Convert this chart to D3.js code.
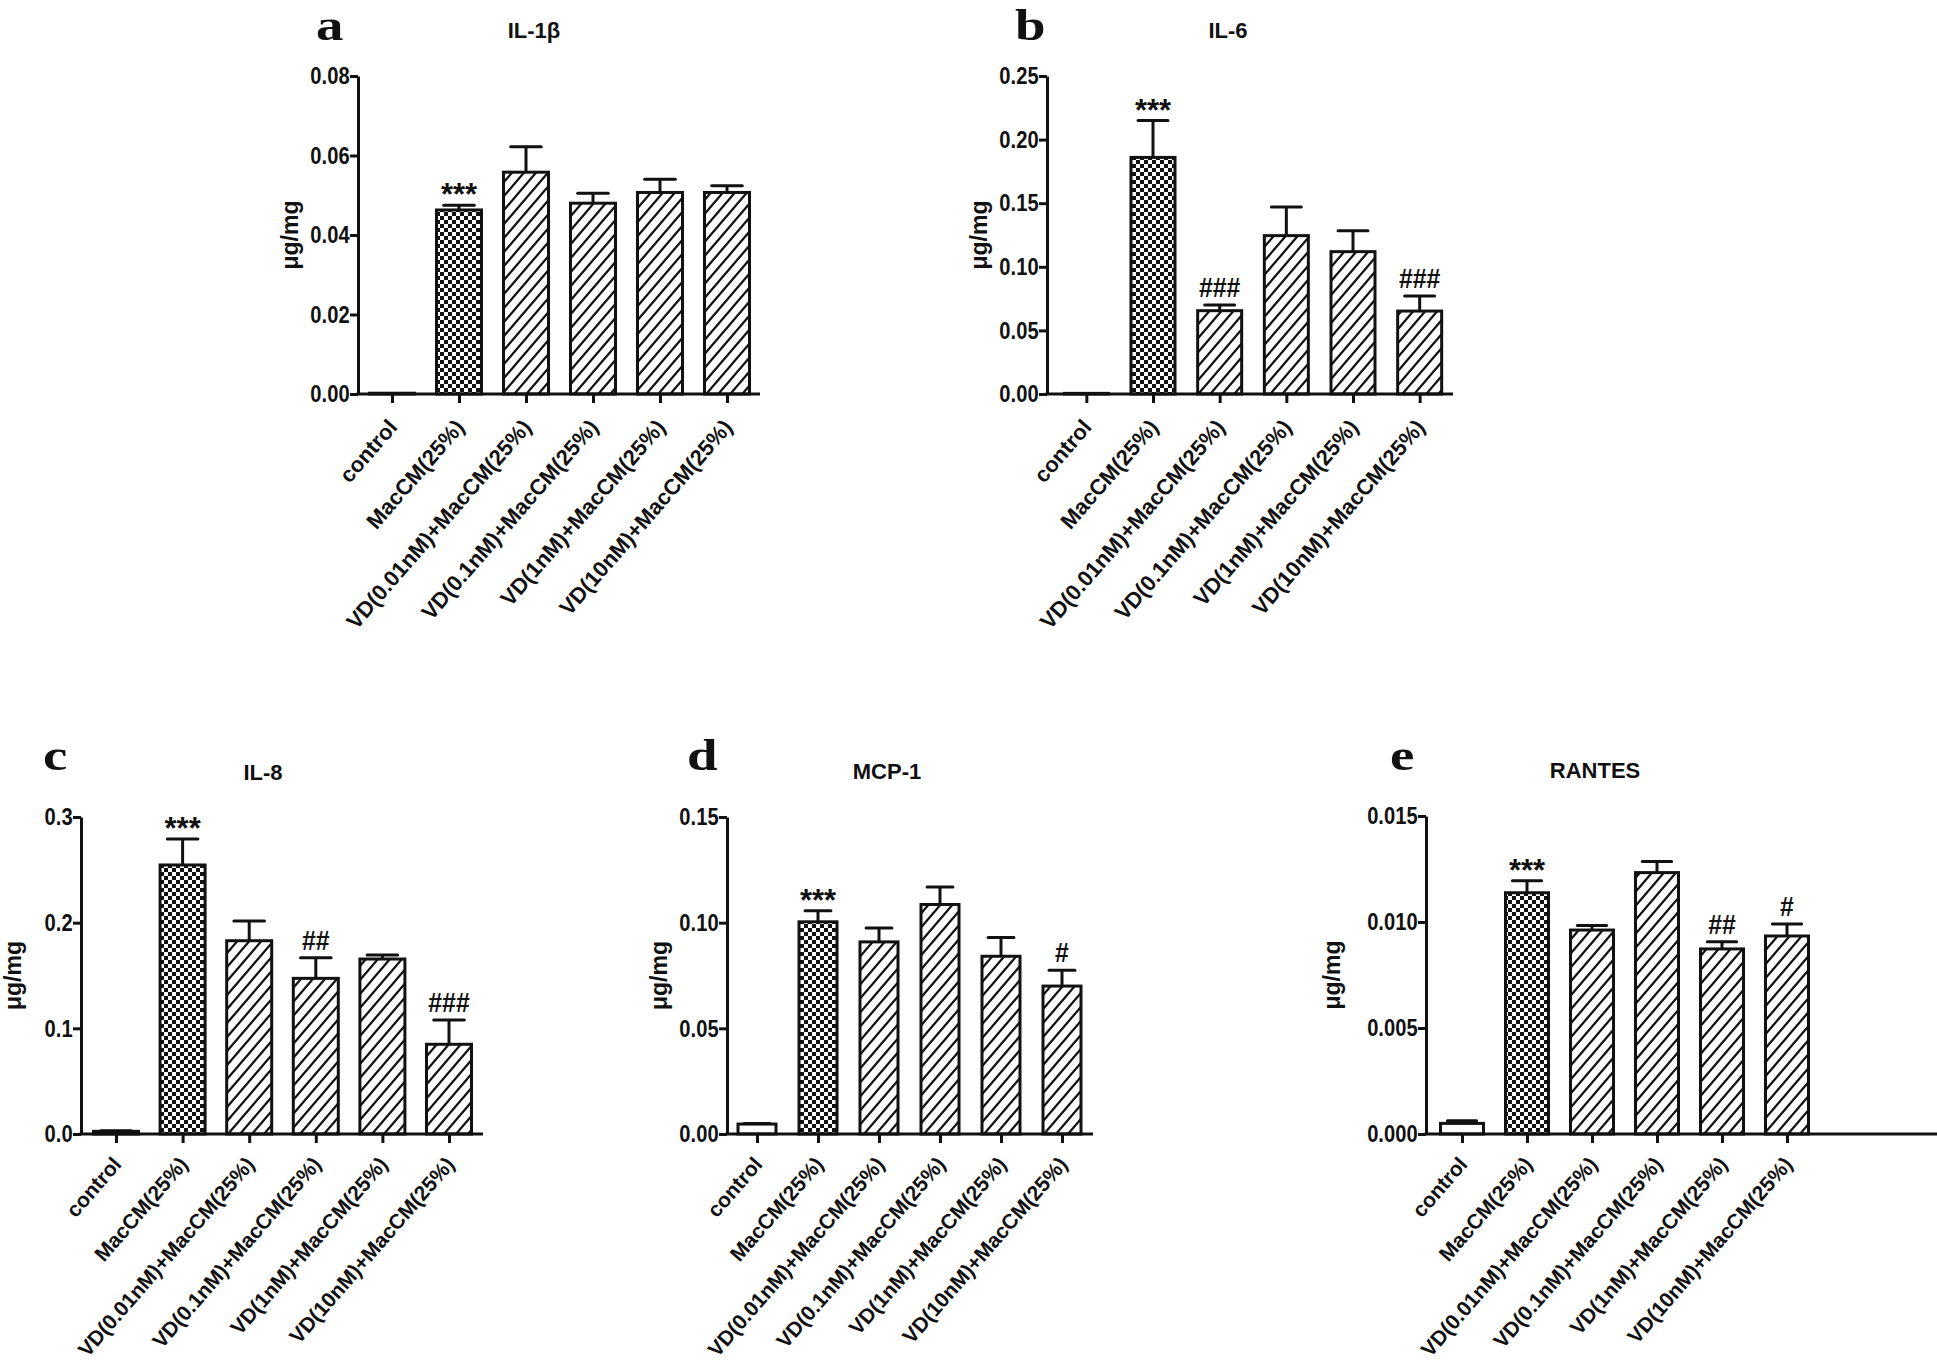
<!DOCTYPE html>
<html><head><meta charset="utf-8">
<script src="https://cdn.jsdelivr.net/npm/d3@7"></script>
<style>body{margin:0;background:#fff}</style>
</head><body>
<svg id="fig" width="1937" height="1372"></svg>
<script>
// ---------- data ----------
const categories = ["control", "MacCM(25%)", "VD(0.01nM)+MacCM(25%)", "VD(0.1nM)+MacCM(25%)", "VD(1nM)+MacCM(25%)", "VD(10nM)+MacCM(25%)"];

const il1bMean = [0.0002, 0.0463, 0.0558, 0.0480, 0.0507, 0.0507];
const il1bSem  = [0, 0.0012, 0.0064, 0.0025, 0.0033, 0.0017];
const il1bSig  = ["", "***", "", "", "", ""];
const il1bTicks = [0, 0.02, 0.04, 0.06, 0.08];

const il6Mean = [0.0005, 0.186, 0.0655, 0.1245, 0.1119, 0.0652];
const il6Sem  = [0, 0.029, 0.0045, 0.0225, 0.0165, 0.0118];
const il6Sig  = ["", "***", "###", "", "", "###"];
const il6Ticks = [0, 0.05, 0.10, 0.15, 0.20, 0.25];

const il8Mean = [0.0025, 0.2546, 0.1829, 0.1473, 0.1656, 0.0849];
const il8Sem  = [0.0005, 0.0246, 0.0187, 0.0196, 0.0038, 0.0230];
const il8Sig  = ["", "***", "", "##", "", "###"];
const il8Ticks = [0, 0.1, 0.2, 0.3];

const mcp1Mean = [0.0047, 0.1004, 0.0909, 0.1086, 0.0841, 0.0700];
const mcp1Sem  = [0.0003, 0.0052, 0.0066, 0.0083, 0.0089, 0.0075];
const mcp1Sig  = ["", "***", "", "", "", "#"];
const mcp1Ticks = [0, 0.05, 0.10, 0.15];

const rantesMean = [0.00050, 0.01138, 0.00962, 0.01233, 0.00873, 0.00934];
const rantesSem  = [0.00013, 0.00057, 0.00021, 0.00052, 0.00034, 0.00057];
const rantesSig  = ["", "***", "", "", "##", "#"];
const rantesTicks = [0, 0.005, 0.010, 0.015];

const yLabel = "\u03bcg/mg";

// ---------- layout ----------
const panels = [
  {letter:"a", title:"IL-1\u03b2", mean:il1bMean, sem:il1bSem, sig:il1bSig, ticks:il1bTicks, fmt:".2f",
   axX:[356.5,760], band:[358.5,760.5], yR:[394,76], bw:45, letterPos:[316,40], titlePos:[534,38], ylabX:298, xlab:[22,34]},
  {letter:"b", title:"IL-6", mean:il6Mean, sem:il6Sem, sig:il6Sig, ticks:il6Ticks, fmt:".2f",
   axX:[1045.5,1453], band:[1053,1453], yR:[394,76], bw:44, letterPos:[1015,40], titlePos:[1228,38], ylabX:987, xlab:[22,34]},
  {letter:"c", title:"IL-8", mean:il8Mean, sem:il8Sem, sig:il8Sig, ticks:il8Ticks, fmt:".1f",
   axX:[79.5,483], band:[82.7,482.3], yR:[1134,817], bw:45, letterPos:[43,770], titlePos:[263,780], ylabX:21, xlab:[21,31]},
  {letter:"d", title:"MCP-1", mean:mcp1Mean, sem:mcp1Sem, sig:mcp1Sig, ticks:mcp1Ticks, fmt:".2f",
   axX:[725.5,1093], band:[726.5,1092.5], yR:[1134,817], bw:38, letterPos:[687,770], titlePos:[887,779], ylabX:667, xlab:[21,31]},
  {letter:"e", title:"RANTES", mean:rantesMean, sem:rantesSem, sig:rantesSig, ticks:rantesTicks, fmt:".3f",
   axX:[1424.5,1937], band:[1429.5,1819.5], yR:[1134,816], bw:43, letterPos:[1390,770], titlePos:[1595,778], ylabX:1340, xlab:[21,31]}
];

const SANS = "'Liberation Sans', Arial, Helvetica, sans-serif";
const SERIF = "'Liberation Serif', 'Times New Roman', serif";
const LW = 3;

const svg = d3.select("#fig");
svg.append("rect").attr("width",1937).attr("height",1372).attr("fill","#fff");

// patterns
const defs = svg.append("defs");
const chk = defs.append("pattern").attr("id","checker").attr("patternUnits","userSpaceOnUse")
  .attr("width",8).attr("height",8);
chk.append("rect").attr("width",8).attr("height",8).attr("fill","#fff");
chk.append("rect").attr("x",0).attr("y",0).attr("width",4).attr("height",4).attr("fill","#111");
chk.append("rect").attr("x",4).attr("y",4).attr("width",4).attr("height",4).attr("fill","#111");

const hw = 12, hh = 14;
const hat = defs.append("pattern").attr("id","hatch").attr("patternUnits","userSpaceOnUse")
  .attr("width",hw).attr("height",hh);
hat.append("rect").attr("width",hw).attr("height",hh).attr("fill","#fff");
hat.append("path").attr("d",`M0,${hh} L${hw},0 M${-hw/2},${hh/2} L${hw/2},${-hh/2} M${hw/2},${hh*1.5} L${hw*1.5},${hh/2}`)
  .attr("stroke","#111").attr("stroke-width",2.2).attr("fill","none");

const fills = ["#fff", "url(#checker)", "url(#hatch)", "url(#hatch)", "url(#hatch)", "url(#hatch)"];

panels.forEach(p => {
  const g = svg.append("g");
  const y = d3.scaleLinear().domain([0, p.ticks[p.ticks.length-1]]).range(p.yR);
  const x = d3.scalePoint().domain(categories).range(p.band).padding(0.5);
  const y0 = y(0);
  const rows = categories.map((c,i) => ({c, m:p.mean[i], s:p.sem[i], sig:p.sig[i], fill:fills[i]}));

  // bars
  g.selectAll("rect.bar").data(rows).join("rect").attr("class","bar")
    .attr("x", d => x(d.c) - p.bw/2)
    .attr("y", d => y(d.m))
    .attr("width", p.bw)
    .attr("height", d => Math.max(0.5, y0 - y(d.m)))
    .attr("fill", d => d.fill)
    .attr("stroke", "#111").attr("stroke-width", LW);

  // error bars
  const capW = p.bw * 0.68;
  const eb = g.selectAll("g.err").data(rows.filter(d => d.s > 0)).join("g").attr("class","err");
  eb.append("line").attr("x1", d => x(d.c)).attr("x2", d => x(d.c))
    .attr("y1", d => y(d.m)).attr("y2", d => y(d.m + d.s))
    .attr("stroke","#111").attr("stroke-width",LW);
  eb.append("line").attr("x1", d => x(d.c) - capW/2).attr("x2", d => x(d.c) + capW/2)
    .attr("y1", d => y(d.m + d.s)).attr("y2", d => y(d.m + d.s))
    .attr("stroke","#111").attr("stroke-width",LW).attr("stroke-linecap","round");

  // significance marks
  g.selectAll("text.sig").data(rows.filter(d => d.sig)).join("text").attr("class","sig")
    .attr("transform", d => {
      const ty = y(d.m + d.s) - (d.sig[0] === "*" ? 0 : 8);
      const sx = d.sig[0] === "*" ? 1 : 0.92;
      return `translate(${x(d.c)},${ty}) scale(${sx},1)`;
    })
    .attr("text-anchor","middle")
    .style("font-family", SANS).style("font-weight","bold")
    .style("font-size", d => d.sig[0] === "*" ? "31px" : "27px")
    .attr("fill","#111")
    .text(d => d.sig);

  // y axis
  const ya = g.append("g").attr("transform", `translate(${p.axX[0]+1.5},0)`)
    .call(d3.axisLeft(y).tickValues(p.ticks).tickFormat(d3.format(p.fmt)).tickSize(8).tickSizeOuter(0).tickPadding(2));
  ya.select(".domain").attr("stroke","#111").attr("stroke-width",LW);
  ya.selectAll(".tick line").attr("stroke","#111").attr("stroke-width",LW);
  ya.selectAll(".tick text").attr("fill","#111")
    .attr("transform","scale(0.84,1)")
    .style("font-family", SANS).style("font-weight","bold").style("font-size","24px");

  // x axis line
  g.append("line").attr("x1", p.axX[0]).attr("x2", p.axX[1]).attr("y1", y0).attr("y2", y0)
    .attr("stroke","#111").attr("stroke-width",LW);
  const xa = g.append("g").attr("transform", `translate(0,${y0})`)
    .call(d3.axisBottom(x).tickSize(9).tickSizeOuter(0));
  xa.select(".domain").remove();
  xa.selectAll(".tick line").attr("stroke","#111").attr("stroke-width",LW);
  xa.selectAll(".tick text").attr("fill","#111")
    .attr("x",0).attr("y",0).attr("dy",0)
    .attr("text-anchor","end")
    .attr("transform",`translate(6,${p.xlab[1]}) rotate(-49)`)
    .style("font-family", SANS).style("font-weight","bold").style("font-size", p.xlab[0] + "px");

  // y label
  const ymid = (p.yR[0] + p.yR[1]) / 2;
  g.append("text").attr("transform", `translate(${p.ylabX},${ymid}) rotate(-90)`)
    .attr("text-anchor","middle").attr("fill","#111")
    .style("font-family", SANS).style("font-weight","bold").style("font-size","23px")
    .text(yLabel);

  // title
  g.append("text").attr("transform", `translate(${p.titlePos[0]},${p.titlePos[1]})`)
    .attr("text-anchor","middle").attr("fill","#111")
    .style("font-family", SANS).style("font-weight","bold").style("font-size","22px")
    .text(p.title);

  // panel letter
  g.append("text").attr("transform", `translate(${p.letterPos[0]},${p.letterPos[1]}) scale(1.22,1)`)
    .attr("fill","#111")
    .style("font-family", SERIF).style("font-weight","bold").style("font-size","45px")
    .text(p.letter);
});
</script>
</body></html>
